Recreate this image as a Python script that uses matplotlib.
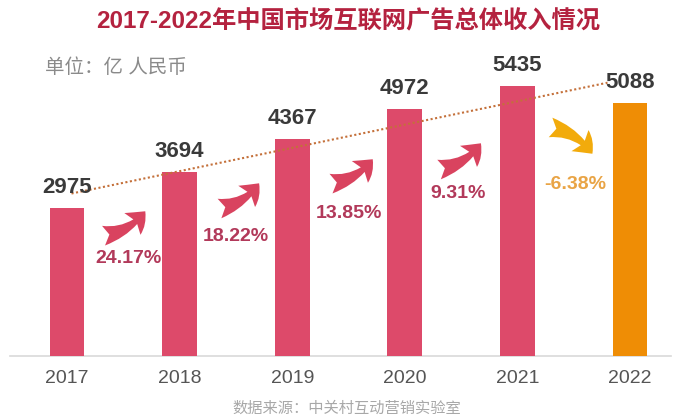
import numpy as np
import matplotlib
matplotlib.use("Agg")
import matplotlib.pyplot as plt
from matplotlib.patches import FancyArrowPatch

plt.rcParams['font.family'] = ['Liberation Sans', 'Noto Sans CJK SC', 'DejaVu Sans']

# Data
years = ["2017", "2018", "2019", "2020", "2021", "2022"]
revenue = [2975, 3694, 4367, 4972, 5435, 5088]          # 亿人民币
growth = ["24.17%", "18.22%", "13.85%", "9.31%", "-6.38%"]

title = "2017-2022年中国市场互联网广告总体收入情况"
unit = "单位：亿 人民币"
source = "数据来源：中关村互动营销实验室"

PINK = "#dd4a6a"
ORANGE = "#ef8d05"
ARROW_PINK = "#d9435f"
ARROW_GOLD = "#f2ab0c"
TXT_PINK = "#b2395a"
TXT_GOLD = "#e9a445"

fig = plt.figure(figsize=(6.78, 4.18), dpi=100)
ax = fig.add_axes([0, 0, 1, 1])
ax.set_xlim(-0.595, 5.426)
ax.set_ylim(-1247, 7163)
ax.axis("off")

x = np.arange(len(years))
colors = [PINK] * (len(years) - 1) + [ORANGE]
ax.bar(x, revenue, width=0.31, color=colors, zorder=2)

# baseline
ax.axhline(0, xmin=0.015, xmax=0.99, color="#d9d9d9", lw=1.2, zorder=1)

# value labels
for xi, v in zip(x, revenue):
    ax.annotate(f"{v}", (xi, v), xytext=(0, 15), textcoords="offset points",
                ha="center", va="center", fontsize=16, fontweight="bold",
                color="#3a3a3a", zorder=4)

# year labels
for xi, y in zip(x, years):
    ax.text(xi, -460, y, ha="center", va="center", fontsize=14, color="#555555")

# linear trend line
k, b = np.polyfit(x, revenue, 1)
tx = np.array([0.04, 4.8])
ax.plot(tx, k * tx + b, color="#c4703a", lw=1.5, ls=(0, (1, 1.2)), zorder=3)

# growth arrows between bars
arrow_pos = [
    ((0.30, 2414), (0.71, 2957)),
    ((1.33, 2958), (1.72, 3521)),
    ((2.32, 3461), (2.73, 4004)),
    ((3.28, 3743), (3.69, 4326)),
    ((4.27, 4608), (4.68, 4024)),
]
for i, (tail, head) in enumerate(arrow_pos):
    down = i == len(arrow_pos) - 1
    arr = FancyArrowPatch(tail, head,
                          arrowstyle="fancy,head_length=0.5,head_width=0.75,tail_width=0.55",
                          connectionstyle=f"arc3,rad={-0.22 if down else 0.22}",
                          mutation_scale=26,
                          color=ARROW_GOLD if down else ARROW_PINK, lw=0, zorder=3)
    ax.add_patch(arr)

# growth labels
growth_pos = [(0.55, 1960), (1.50, 2400), (2.50, 2860), (3.47, 3260), (4.51, 3460)]
for i, (g, (gx, gy)) in enumerate(zip(growth, growth_pos)):
    down = i == len(growth) - 1
    ax.text(gx, gy, g, ha="center", va="center", fontsize=14, fontweight="bold",
            color=TXT_GOLD if down else TXT_PINK, zorder=4)

# titles and notes
fig.text(0.513, 1 - 22 / 418, title, ha="center", va="center", fontsize=17.5,
         fontweight="bold", color="#b4223f")
fig.text(45 / 678, 1 - 68 / 418, unit, ha="left", va="center", fontsize=14,
         color="#8a8a8a")
fig.text(347 / 678, 1 - 409 / 418, source, ha="center", va="center", fontsize=11,
         color="#a8a8a8")

fig.savefig("out.png", dpi=100)
